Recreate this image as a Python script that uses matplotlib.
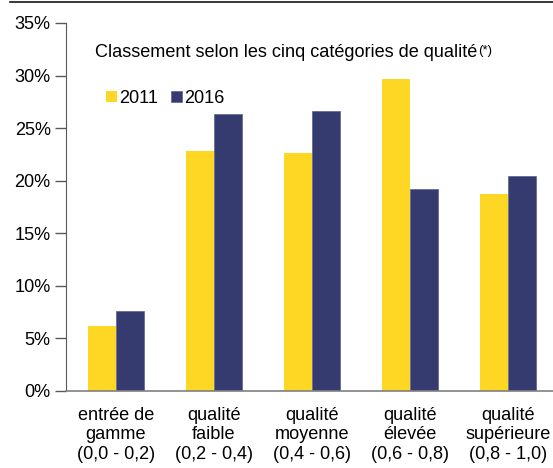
import numpy as np
import matplotlib
matplotlib.use('Agg')
import matplotlib.pyplot as plt
from matplotlib.lines import Line2D

plt.rcParams['font.family'] = ['Liberation Sans', 'DejaVu Sans']

categories = ['entrée de\ngamme\n(0,0 - 0,2)', 'qualité\nfaible\n(0,2 - 0,4)',
              'qualité\nmoyenne\n(0,4 - 0,6)', 'qualité\nélevée\n(0,6 - 0,8)',
              'qualité\nsupérieure\n(0,8 - 1,0)']
share_2011 = [6.2, 22.8, 22.6, 29.7, 18.7]
share_2016 = [7.6, 26.3, 26.6, 19.2, 20.4]
yticks = [0, 5, 10, 15, 20, 25, 30, 35]

yellow = '#FED724'
navy = '#363B6F'
fs = 13.1

fig = plt.figure(figsize=(5.53, 4.68), dpi=100)
ax = fig.add_axes([66 / 553, 1 - 390.7 / 468, 1 - 66 / 553, (390.7 - 23) / 468])

x = np.arange(len(categories))
w = 0.286
b1 = ax.bar(x - w / 2, share_2011, w, color=yellow, label='2011', linewidth=0)
b2 = ax.bar(x + w / 2, share_2016, w, color=navy, label='2016',
            edgecolor='#5c6291', linewidth=0.5)

ax.set_xlim(-0.51, 4.46)
ax.set_ylim(0, 35)
ax.set_yticks(yticks)
ax.set_yticklabels([f'{v}%' for v in yticks], fontsize=fs)
ax.set_xticks(x)
ax.set_xticklabels(categories, fontsize=fs)
ax.tick_params(axis='x', length=0, pad=11.5)
ax.tick_params(axis='y', length=8, width=1, color='#595959', pad=3)

for s in ['top', 'right']:
    ax.spines[s].set_visible(False)
ax.spines['left'].set_color('#595959')
ax.spines['bottom'].set_color('#808080')
ax.spines['bottom'].set_linewidth(1.2)

# title inside the plot with superscript note
t = fig.text(95 / 553, 1 - 57 / 468, 'Classement selon les cinq catégories de qualité',
             fontsize=fs, ha='left', va='baseline')
ax.annotate('(*)', xy=(1, 1), xycoords=t, fontsize=9.5, ha='left', va='top',
            xytext=(0.5, -1), textcoords='offset points')

leg = ax.legend(handles=[b1, b2], loc='upper left', ncol=2, frameon=False,
                bbox_to_anchor=(106 / 553, 1 - 90 / 468), bbox_transform=fig.transFigure,
                fontsize=fs, handlelength=0.58, handleheight=0.58, handletextpad=0.12,
                columnspacing=0.75, borderpad=0, borderaxespad=0)

# rule across the top of the figure
fig.add_artist(Line2D([10 / 553, 1], [1 - 1.7 / 468] * 2, color='black', linewidth=1.1,
                      transform=fig.transFigure))

fig.savefig('out.png', dpi=100)
